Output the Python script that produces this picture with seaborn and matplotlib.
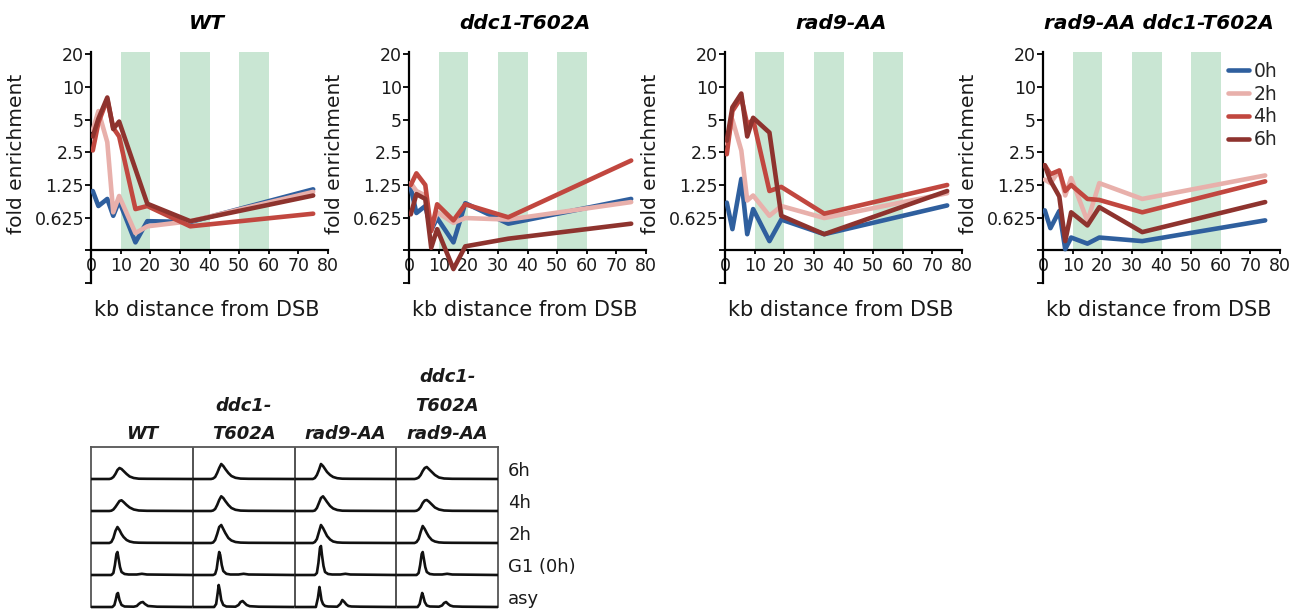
import numpy as np
import pandas as pd
import matplotlib
matplotlib.use("Agg")
import matplotlib.pyplot as plt
import seaborn as sns
from matplotlib.ticker import NullLocator

sns.set_style("ticks")
plt.rcParams["font.family"] = ["DejaVu Sans"]

# ---------------- data ----------------
strains = ["WT", "ddc1-T602A", "rad9-AA", "rad9-AA ddc1-T602A"]
times = ["0h", "2h", "4h", "6h"]
kb = [0.6, 2.5, 5.5, 7.5, 9.5, 15, 19, 33.5, 75]

wt_0h = [1.10, 0.80, 0.93, 0.65, 0.89, 0.37, 0.58, 0.57, 1.14]
wt_2h = [4.0, 6.0, 3.1, 0.70, 0.99, 0.45, 0.52, 0.58, 1.08]
wt_4h = [2.6, 4.7, 7.7, 4.2, 3.5, 0.75, 0.80, 0.52, 0.68]
wt_6h = [3.5, 5.1, 8.0, 4.1, 4.8, 1.75, 0.84, 0.58, 1.00]

ddc_0h = [1.17, 0.69, 0.80, 0.48, 0.62, 0.37, 0.85, 0.55, 0.93]
ddc_2h = [1.30, 1.10, 1.00, 0.50, 0.70, 0.56, 0.62, 0.60, 0.87]
ddc_4h = [1.25, 1.60, 1.25, 0.47, 0.83, 0.59, 0.83, 0.63, 2.10]
ddc_6h = [0.67, 1.03, 0.93, 0.33, 0.49, 0.21, 0.34, 0.40, 0.55]

rad_0h = [0.86, 0.49, 1.42, 0.44, 0.75, 0.38, 0.60, 0.44, 0.81]
rad_2h = [3.0, 5.0, 2.6, 0.90, 1.00, 0.65, 0.80, 0.62, 1.05]
rad_4h = [2.4, 6.0, 8.0, 4.5, 5.0, 1.10, 1.20, 0.68, 1.25]
rad_6h = [3.2, 6.5, 8.7, 3.5, 5.2, 3.8, 0.65, 0.44, 1.10]

dbl_0h = [0.73, 0.50, 0.72, 0.32, 0.41, 0.36, 0.41, 0.38, 0.59]
dbl_2h = [1.40, 1.30, 1.70, 1.00, 1.45, 0.58, 1.30, 0.93, 1.53]
dbl_4h = [1.90, 1.57, 1.70, 1.10, 1.25, 0.93, 0.91, 0.70, 1.35]
dbl_6h = [1.90, 1.37, 0.98, 0.38, 0.70, 0.53, 0.78, 0.46, 0.87]

series = {
    "WT": [wt_0h, wt_2h, wt_4h, wt_6h],
    "ddc1-T602A": [ddc_0h, ddc_2h, ddc_4h, ddc_6h],
    "rad9-AA": [rad_0h, rad_2h, rad_4h, rad_6h],
    "rad9-AA ddc1-T602A": [dbl_0h, dbl_2h, dbl_4h, dbl_6h],
}
bands = [(10, 20), (30, 40), (50, 60)]
ytick_vals = [0.15625, 0.3125, 0.625, 1.25, 2.5, 5, 10, 20]
ytick_labels = ["", "", "0.625", "1.25", "2.5", "5", "10", "20"]
xtick_vals = [0, 10, 20, 30, 40, 50, 60, 70, 80]

# FACS histograms (column-relative DNA content, counts)
facs_cols = [["WT"], ["ddc1-", "T602A"], ["rad9-AA"], ["ddc1-", "T602A", "rad9-AA"]]
facs_rows = ["6h", "4h", "2h", "G1 (0h)", "asy"]
broad_x = [0, 0.18, 0.20, 0.22, 0.24, 0.26, 0.28, 0.30, 0.32, 0.35, 0.38, 0.42, 0.47, 0.55, 1.0]
g1_x = [0, 0.20, 0.22, 0.235, 0.25, 0.26, 0.27, 0.285, 0.30, 0.33, 0.37, 0.45, 0.50, 0.55, 1.0]
asy_x = [0, 0.21, 0.23, 0.245, 0.255, 0.265, 0.28, 0.30, 0.33, 0.42, 0.45, 0.47, 0.49, 0.51,
         0.53, 0.56, 0.65, 1.0]
facs_x = {"6h": broad_x, "4h": broad_x, "2h": broad_x, "G1 (0h)": g1_x, "asy": asy_x}
facs_y = {
    "6h": [[0, 0, 0.5, 2, 5, 9, 11, 10, 8, 5, 2.5, 1, 0.3, 0.2, 0],
           [0, 0, 0.5, 2, 6, 11, 15, 13, 10, 6, 3, 1.2, 0.4, 0.2, 0],
           [0, 0, 1, 4, 9, 15, 13, 10, 7, 4, 2, 0.8, 0.3, 0.2, 0],
           [0, 0, 0.5, 1.5, 4, 8, 11, 12, 10, 7, 4, 1.5, 0.5, 0.2, 0]],
    "4h": [[0, 0, 0.3, 1.5, 4, 7, 10, 10.7, 9, 6, 3.5, 1.5, 0.5, 0.2, 0],
           [0, 0, 0.5, 2, 6, 11, 14.7, 13, 10, 6, 3, 1.2, 0.4, 0.2, 0],
           [0, 0, 0.5, 3, 8, 13, 14.7, 12, 9, 5, 2.5, 1, 0.3, 0.2, 0],
           [0, 0, 0.3, 1.5, 4, 8, 10.5, 11, 9.5, 6.5, 3.5, 1.5, 0.5, 0.2, 0]],
    "2h": [[0, 0, 1, 5, 12, 16, 13, 9, 6, 3, 1.5, 0.6, 0.3, 0.2, 0],
           [0, 0, 0.5, 3, 9, 16, 18, 14, 10, 5, 2.5, 1, 0.4, 0.2, 0],
           [0, 0, 1, 4, 11, 18, 15, 11, 7, 3.5, 1.5, 0.6, 0.3, 0.2, 0],
           [0, 0, 1, 4, 11, 17, 14, 10, 6.5, 3, 1.5, 0.6, 0.3, 0.2, 0]],
    "G1 (0h)": [[0, 0, 2, 10, 21, 23, 17, 8, 3, 1, 0.5, 0.5, 1.2, 0.5, 0],
                [0, 0, 1, 6, 17, 23, 20, 10, 4, 1.2, 0.5, 0.5, 1.2, 0.5, 0],
                [0, 0, 2, 12, 27, 29, 20, 9, 3, 1, 0.5, 0.5, 1.2, 0.5, 0],
                [0, 0, 2, 10, 21, 23, 17, 8, 3, 1, 0.5, 0.5, 1.2, 0.5, 0]],
    "asy": [[0, 0, 2, 8, 13, 14, 7, 2, 0.5, 0.3, 1, 3, 4.5, 5, 3, 1, 0.3, 0],
            [0, 0, 3, 14, 22, 17, 7, 2, 0.5, 0.3, 2, 5, 6, 4, 2, 0.8, 0.3, 0],
            [0, 0, 9, 20, 14, 7, 3, 1, 0.5, 0.3, 3, 7, 5, 2.5, 1, 0.5, 0.3, 0],
            [0, 0, 3, 10, 14, 11, 5, 1.5, 0.5, 0.3, 1.5, 4, 5, 3, 1.5, 0.6, 0.3, 0]],
}

palette = {"0h": "#2f5f9e", "2h": "#e8b0ab", "4h": "#c1473f", "6h": "#8e332e"}
band_color = "#c9e6d3"

rows = []
for s in strains:
    for t, vals in zip(times, series[s]):
        for x, v in zip(kb, vals):
            rows.append({"strain": s, "time": t, "kb": x, "fe": v})
df = pd.DataFrame(rows)

# ---------------- figure ----------------
W, H = 1303, 610
fig = plt.figure(figsize=(W / 100, H / 100), dpi=100)

lefts = [91, 409, 725, 1043]
ax_w, ax_top, ax_bot = 237, 52, 283
for i, s in enumerate(strains):
    ax = fig.add_axes([lefts[i] / W, (H - ax_bot) / H, ax_w / W, (ax_bot - ax_top) / H])
    ax.set_yscale("log", base=2)
    ax.set_xlim(0, 80)
    ax.set_ylim(0.15625, 21)
    for a, b in bands:
        ax.fill_between([a, b], 0.3125, 21, color=band_color, lw=0, zorder=0)
    sns.lineplot(data=df[df.strain == s], x="kb", y="fe", hue="time",
                 hue_order=times, palette=palette, linewidth=3.3, ax=ax,
                 estimator=None, sort=False, legend=(i == 3),
                 solid_capstyle="round", solid_joinstyle="round", zorder=3)
    ax.spines["top"].set_visible(False)
    ax.spines["right"].set_visible(False)
    ax.spines["bottom"].set_position(("data", 0.3125))
    for sp in ("left", "bottom"):
        ax.spines[sp].set_linewidth(1.6)
        ax.spines[sp].set_color("black")
    ax.set_yticks(ytick_vals)
    ax.set_yticklabels(ytick_labels)
    ax.yaxis.set_minor_locator(NullLocator())
    ax.set_xticks(xtick_vals)
    ax.set_xticklabels([str(v) for v in xtick_vals])
    ax.tick_params(axis="both", labelsize=12.5, length=4, width=1.3, pad=1, colors="black",
                   labelcolor="#1a1a1a")
    ax.tick_params(axis="x", length=3, pad=2)
    ax.set_ylabel("fold enrichment", fontsize=14.5, color="#1a1a1a")
    ax.yaxis.label.set_va("center")
    ax.yaxis.set_label_coords((17 - lefts[0]) / ax_w, 0.56)
    ax.set_xlabel("kb distance from DSB", fontsize=15, color="#1a1a1a")
    ax.xaxis.set_label_coords(0.49, -0.117)
    ax.xaxis.label.set_va("center")
    ax.text(0.49, 1.125, s, transform=ax.transAxes, ha="center", va="center",
            fontsize=14.5, fontweight="bold", fontstyle="italic", color="black")
    if i == 3:
        leg = ax.legend(loc="upper left", bbox_to_anchor=((1228 - 1043) / ax_w, (283 - 62) / 231),
                        frameon=False, fontsize=13.5, handlelength=1.1, handletextpad=0.25,
                        labelspacing=0.2, borderaxespad=0, borderpad=0, title=None)
        for h in leg.legend_handles:
            h.set_linewidth(3.3)
            h.set_solid_capstyle("round")

# ---------------- FACS panel ----------------
fx0, fx1, fy0, fy1 = 91, 498, 447, 607
fax = fig.add_axes([fx0 / W, (H - fy1) / H, (fx1 - fx0) / W, (fy1 - fy0) / H])
fax.set_xlim(0, 4)
fax.set_ylim(0, 160)
fax.set_xticks([])
fax.set_yticks([])
for sp in ("top", "left", "right"):
    fax.spines[sp].set_color("#555555")
    fax.spines[sp].set_linewidth(1.3)
fax.spines["bottom"].set_visible(False)
for j in (1, 2, 3):
    fax.axvline(j, color="#444444", lw=1.3, zorder=1)
row_h = 32
for r, rn in enumerate(facs_rows):
    base = (4 - r) * row_h
    xs = np.array(facs_x[rn])
    for j in range(4):
        ys = np.array(facs_y[rn][j])
        fax.plot(j + xs, base + ys, color="#111111", lw=1.9, clip_on=False,
                 solid_joinstyle="round", solid_capstyle="butt", zorder=3)
    fax.text(4.1, base + 8, rn, ha="left", va="center", fontsize=13, color="#1a1a1a")
for j, lines in enumerate(facs_cols):
    offs = [13, 41, 70]
    for k, line in enumerate(reversed(lines)):
        fax.text(j + 0.5, 160 + offs[k], line, ha="center", va="center",
                 fontsize=13, fontweight="bold", fontstyle="italic", clip_on=False,
                 color="#1a1a1a")

fig.savefig("out.png", dpi=100)
